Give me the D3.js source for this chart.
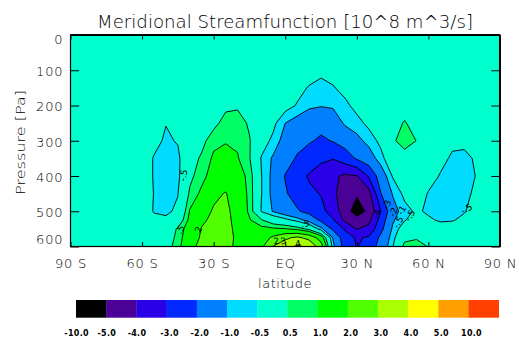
<!DOCTYPE html>
<html>
<head>
<meta charset="utf-8">
<script src="https://cdn.jsdelivr.net/npm/d3@7"></script>
<style>
  body { margin: 0; background: #fff; }
  text { font-family: "DejaVu Sans", sans-serif; fill: #000; }
</style>
</head>
<body>
<svg id="chart" width="519" height="339"></svg>
<script>
// grid: latitude columns, pressure rows (values in 10^8 m^3/s)
const lats = [-90, -85, -80, -75, -70, -65, -60, -55, -50, -45, -40, -35, -30, -25, -20, -15, -10, -5, 0,
  5, 10, 15, 20, 25, 30, 35, 40, 45, 50, 55, 60, 65, 70, 75, 80, 85, 90];
const levels = [0, 50, 100, 150, 200, 250, 300, 350, 400, 450, 500, 525, 550, 575, 600];

const psi = [
  // p = 0
  [0, 0, 0, 0, 0, 0, 0, 0, 0, 0, 0, 0, 0, 0, 0, 0, 0, 0, 0, 0, 0, 0, 0, 0, 0, 0, 0, 0, 0, 0, 0, 0, 0, 0, 0, 0, 0],
  // p = 50
  [0, 0, 0, 0, 0, 0, 0, 0, 0, 0, 0, 0, 0, 0, 0.05, 0, 0, 0, 0, 0, -0.05, -0.1, -0.05, 0, 0, 0, 0, 0, 0, 0, 0, 0, 0, 0, 0, 0, 0],
  // p = 100
  [0, 0, 0, 0, 0, 0, 0, 0, 0, 0, 0, 0, 0, 0.1, 0.15, 0.05, 0, 0, -0.05, -0.1, -0.2, -0.3, -0.25, -0.1, -0.05, 0, 0, 0, 0, 0, 0, 0, 0, 0, 0, 0, 0],
  // p = 150
  [0, 0, 0, 0, 0, 0, 0, 0, -0.1, 0, 0, 0.05, 0.1, 0.2, 0.25, 0.15, 0, 0, -0.1, -0.3, -0.55, -0.75, -0.55, -0.3, -0.1, 0, 0, 0, 0.05, 0, 0, 0, 0, 0, 0, 0, 0],
  // p = 200
  [0, 0, 0, 0, 0, 0, 0, -0.1, -0.3, -0.1, 0, 0.1, 0.2, 0.35, 0.4, 0.3, 0.05, -0.05, -0.25, -0.55, -0.85, -0.95, -0.9, -0.65, -0.3, -0.1, 0, 0.05, 0.2, 0.1, 0, 0, -0.1, -0.1, 0, 0, 0],
  // p = 250
  [0, 0, 0, 0, 0, 0, -0.05, -0.3, -0.48, -0.3, -0.05, 0.15, 0.3, 0.75, 0.8, 0.4, 0.05, -0.35, -1.0, -1.3, -1.6, -1.7, -1.5, -0.9, -0.7, -0.35, -0.1, 0.25, 0.55, 0.25, 0, -0.1, -0.25, -0.25, -0.1, 0, 0],
  // p = 300
  [0, 0, 0, 0, 0, -0.05, -0.1, -0.3, -0.6, -0.45, 0, 0.3, 0.85, 0.95, 0.9, 0.55, -0.2, -0.65, -1.3, -1.7, -1.9, -2.15, -1.95, -1.6, -1.2, -0.8, -0.35, 0.41, 0.75, 0.49, 0.1, -0.2, -0.35, -0.4, -0.25, -0.05, 0],
  // p = 350
  [0, 0, 0, 0, 0, -0.05, -0.1, -0.55, -0.75, -0.65, 0.2, 0.6, 1.1, 1.25, 1.05, 0.55, -0.55, -1.1, -1.6, -2.1, -2.5, -2.8, -2.95, -2.5, -1.9, -1.4, -0.7, -0.03, 0.23, 0.1, -0.1, -0.3, -0.6, -0.6, -0.45, -0.1, 0],
  // p = 400
  [0, 0, 0, 0, 0, -0.05, -0.1, -0.55, -0.8, -0.65, 0.35, 0.8, 1.3, 1.55, 1.35, 0.8, -0.48, -1.2, -2.05, -2.6, -3.1, -3.5, -3.85, -4.15, -4.05, -2.9, -1.5, -0.45, -0.1, 0, -0.2, -0.55, -0.8, -0.75, -0.48, -0.1, 0],
  // p = 450
  [0, 0, 0, 0, 0, -0.05, -0.1, -0.52, -0.75, -0.52, 0.6, 1.15, 1.8, 2.05, 1.5, 0.85, -0.48, -1.2, -1.9, -2.4, -2.8, -3.05, -3.8, -4.5, -4.9, -4.4, -2.05, -0.95, -0.35, -0.1, -0.55, -0.75, -0.8, -0.7, -0.35, -0.1, 0],
  // p = 500
  [0, 0, 0, 0, 0, -0.05, -0.1, -0.55, -0.6, -0.4, 1.05, 1.6, 2.1, 2.3, 1.5, 0.9, -0.55, -1.05, -1.5, -1.9, -2.3, -2.75, -3.4, -4.6, -5.4, -4.8, -3.05, -1.3, -0.7, -0.4, -0.6, -0.7, -0.65, -0.55, -0.2, -0.05, 0],
  // p = 525
  [0, 0, 0, 0, 0, 0, -0.05, -0.3, -0.4, -0.05, 1.2, 1.85, 2.2, 2.35, 1.6, 1.05, 0.55, 0.02, -0.3, -0.7, -1.3, -2.2, -2.9, -4.2, -4.7, -4.3, -2.6, -1.1, -0.55, -0.2, -0.4, -0.58, -0.55, -0.35, -0.1, 0, 0],
  // p = 550
  [0, 0, 0, 0, 0, 0, 0, -0.05, -0.1, 0.6, 1.4, 2.05, 2.3, 2.4, 1.7, 1.3, 1.2, 1.1, 1.05, 0.8, 0.3, -0.8, -2.2, -3.1, -4.05, -3.7, -2.3, -0.9, -0.1, 0.1, -0.1, -0.2, -0.15, -0.05, 0, 0, 0],
  // p = 575
  [0, 0, 0, 0, 0, 0, 0, 0, 0.15, 0.65, 1.6, 2.1, 2.4, 2.4, 1.8, 1.4, 1.5, 2.2, 2.8, 3.2, 2.7, 1.5, -1.05, -2.6, -3.1, -2.9, -1.8, -0.7, 0.3, 0.4, 0.2, 0, 0, 0, 0, 0, 0],
  // p = 600
  [0, 0, 0, 0, 0, 0, 0, 0, 0.3, 0.7, 1.9, 2.1, 2.4, 2.3, 1.8, 1.5, 1.8, 3.05, 3.6, 4.15, 3.8, 2.5, -0.8, -2.4, -3.05, -2.6, -1.6, -0.55, 0.7, 0.9, 0.45, 0, 0, 0, 0, 0, 0]
];

const bandLevels = [-10, -5, -4, -3, -2, -1, -0.5, 0.5, 1, 2, 3, 4, 5, 10];
const bandLabels = ["-10.0", "-5.0", "-4.0", "-3.0", "-2.0", "-1.0", "-0.5", "0.5", "1.0", "2.0", "3.0", "4.0", "5.0", "10.0"];
const bandColors = ["#000000", "#4b0096", "#2a00e6", "#0028ff", "#0080ff", "#00dcff", "#00ffcc",
  "#00ff64", "#00ff00", "#50ff00", "#aaff00", "#ffff00", "#ffa000", "#ff4000"];

const xTicks = [-90, -60, -30, 0, 30, 60, 90];
const xTickLabels = ["90 S", "60 S", "30 S", "EQ", "30 N", "60 N", "90 N"];
const yTicks = [0, 100, 200, 300, 400, 500, 600];

// contour labels: text, latitude, pressure, angle
const contourLabels = [
  ["-.5", -42.7, 398, -80],
  [".5", -44, 552, -65],
  ["2", -36.3, 552, -70],
  [".5", 8.4, 535, -10],
  ["2", -3.8, 584, -10],
  ["3", -0.8, 584, -10],
  ["4", 5.4, 592, -10],
  ["-4", 38.4, 507, -70],
  ["-3", 42.6, 481, -70],
  ["-2", 45.3, 502, -70],
  ["-1", 48.8, 497, -60],
  ["-.5", 52.3, 512, -60],
  ["-.5", 47.3, 531, -60],
  ["-.5", 76, 493, -30]
];

const svg = d3.select("#chart");
const x = d3.scaleLinear().domain([-90, 90]).range([70.5, 500]);
const y = d3.scaleLinear().domain([0, 600]).range([35, 246.5]);

const nx = lats.length, ny = levels.length;
const latAt = d3.scaleLinear().domain(d3.range(nx)).range(lats);
const pAt = d3.scaleLinear().domain(d3.range(ny)).range(levels);

const bands = d3.contours().size([nx, ny]).thresholds(bandLevels)(psi.flat());

const proj = d3.geoTransform({
  point: function (gx, gy) {
    const u = Math.max(0, Math.min(nx - 1, gx - 0.5));
    const v = Math.max(0, Math.min(ny - 1, gy - 0.5));
    this.stream.point(x(latAt(u)), y(pAt(v)));
  }
});
const path = d3.geoPath(proj);

// filled bands
svg.append("g")
  .selectAll("path")
  .data(bands)
  .enter().append("path")
  .attr("d", path)
  .attr("fill", (d, i) => bandColors[i])
  .attr("stroke", "none");

// contour lines
svg.append("g")
  .selectAll("path")
  .data(bands.filter((d, i) => i > 0 && d.coordinates.length > 0))
  .enter().append("path")
  .attr("d", path)
  .attr("fill", "none")
  .attr("stroke", "#000")
  .attr("stroke-width", 0.9)
  .attr("stroke-linejoin", "round");

// contour labels
svg.append("g")
  .selectAll("text")
  .data(contourLabels)
  .enter().append("text")
  .attr("transform", d => `translate(${x(d[1])},${y(d[2])}) rotate(${d[3]})`)
  .attr("text-anchor", "middle")
  .attr("dy", "0.35em")
  .style("font-size", "9px")
  .style("fill", "#000")
  .text(d => d[0]);

// axes, ticks point inward
svg.append("g").attr("transform", "translate(0,246.5)")
  .call(d3.axisBottom(x).tickValues(xTicks).tickSize(-4.5).tickPadding(12.5)
    .tickFormat((d, i) => xTickLabels[i]));
svg.append("g").attr("transform", "translate(0,35)")
  .call(d3.axisTop(x).tickValues(xTicks).tickSize(-4.5).tickFormat(""));
const axL = svg.append("g").attr("transform", "translate(70.5,0)")
  .call(d3.axisLeft(y).tickValues(yTicks).tickSize(-8.6).tickPadding(7.2));
svg.append("g").attr("transform", "translate(500,0)")
  .call(d3.axisRight(y).tickValues(yTicks).tickSize(-8.6).tickFormat(""));

svg.selectAll(".domain").remove();
svg.selectAll(".tick line").attr("stroke", "#000");
svg.selectAll(".tick text").style("font-size", "13px").style("fill", "#000")
  .style("font-family", "DejaVu Sans, sans-serif").style("font-weight", 200)
  .style("letter-spacing", "0.8px");
axL.selectAll(".tick text").attr("dy", (d, i) => i === 0 ? "0.68em" : i === yTicks.length - 1 ? "-0.25em" : "0.42em");

// frame
svg.append("rect")
  .attr("x", 70.5).attr("y", 35)
  .attr("width", 500 - 70.5).attr("height", 246.5 - 35)
  .attr("fill", "none").attr("stroke", "#000").attr("stroke-width", 1.2);

// title and axis titles
svg.append("text")
  .attr("x", 285).attr("y", 28)
  .attr("text-anchor", "middle")
  .attr("textLength", 376).attr("lengthAdjust", "spacingAndGlyphs")
  .style("font-size", "17px").style("font-weight", 200)
  .text("Meridional Streamfunction [10^8 m^3/s]");

svg.append("text")
  .attr("x", 285).attr("y", 287.7)
  .attr("text-anchor", "middle")
  .style("font-size", "13px").style("font-weight", 200).style("letter-spacing", "0.5px")
  .text("latitude");

svg.append("text")
  .attr("transform", "translate(25,142.5) rotate(-90)")
  .attr("text-anchor", "middle")
  .attr("textLength", 105).attr("lengthAdjust", "spacingAndGlyphs")
  .style("font-size", "13px").style("font-weight", 200)
  .text("Pressure [Pa]");

// colour bar
const cbX = d3.scaleBand().domain(d3.range(bandColors.length)).range([76, 498.7]).paddingInner(0);
const cb = svg.append("g");
cb.selectAll("rect")
  .data(bandColors)
  .enter().append("rect")
  .attr("x", (d, i) => cbX(i))
  .attr("y", 300)
  .attr("width", cbX.bandwidth() + 0.3)
  .attr("height", 17.7)
  .attr("fill", d => d);
cb.selectAll("text")
  .data(bandLabels)
  .enter().append("text")
  .attr("x", (d, i) => cbX(i) + (i < 3 ? 0.6 : 3))
  .attr("y", 336)
  .attr("text-anchor", "middle")
  .style("font-size", "8px")
  .style("font-weight", "bold")
  .style("letter-spacing", "0.3px")
  .style("fill", "#000")
  .text(d => d);
</script>
</body>
</html>
